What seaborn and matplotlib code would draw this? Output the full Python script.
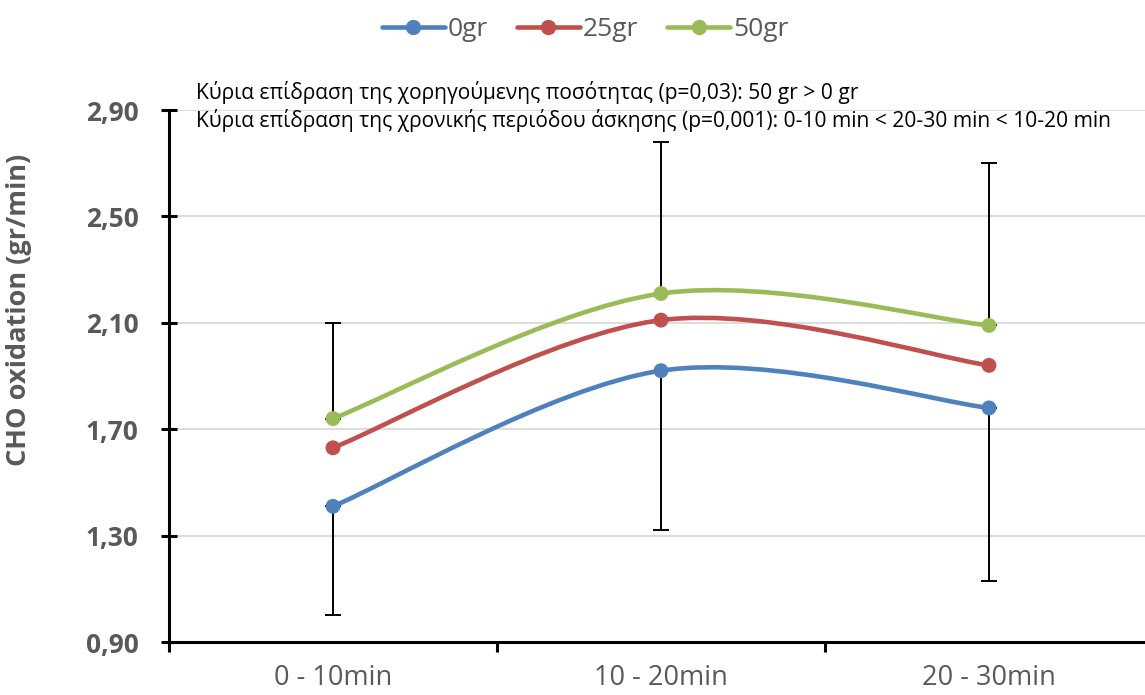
import matplotlib
matplotlib.use("Agg")
import matplotlib.pyplot as plt
from matplotlib.path import Path
from matplotlib.patches import PathPatch
from matplotlib.lines import Line2D
import seaborn as sns
import pandas as pd
import numpy as np

# ---- data ----
categories = ["0 - 10min", "10 - 20min", "20 - 30min"]
series_names = ["0gr", "25gr", "50gr"]
values_0gr = [1.41, 1.92, 1.78]
values_25gr = [1.63, 2.11, 1.94]
values_50gr = [1.74, 2.21, 2.09]
err_up_50gr = [0.36, 0.57, 0.61]
err_down_0gr = [0.41, 0.60, 0.65]
y_ticks = [0.90, 1.30, 1.70, 2.10, 2.50, 2.90]
y_tick_labels = ["0,90", "1,30", "1,70", "2,10", "2,50", "2,90"]
annot_lines = [
    "Κύρια επίδραση της χορηγούμενης ποσότητας (p=0,03): 50 gr > 0 gr",
    "Κύρια επίδραση της χρονικής περιόδου άσκησης (p=0,001): 0-10 min < 20-30 min < 10-20 min",
]
colors = {"0gr": "#4F81BD", "25gr": "#C0504D", "50gr": "#9BBB59"}

sns.set_theme(style="white")
plt.rcParams["font.family"] = ["Open Sans", "Noto Sans", "DejaVu Sans"]

df = pd.DataFrame({
    "cat": categories * 3,
    "x": list(range(len(categories))) * 3,
    "value": values_0gr + values_25gr + values_50gr,
    "series": [s for s in series_names for _ in categories],
})

fig = plt.figure(figsize=(11.45, 6.95), dpi=100)
ax = fig.add_axes([169 / 1145, 1 - 642 / 695, 984 / 1145, (642 - 110) / 695])

ax.set_xlim(-0.5, 2.5)
ax.set_ylim(0.90, 2.90)

# gridlines
ax.set_yticks(y_ticks)
ax.set_yticklabels(y_tick_labels)
ax.yaxis.grid(True, color="#D9D9D9", linewidth=1.3)
ax.set_axisbelow(True)


def smooth_path(xs, ys):
    pts = np.column_stack([xs, ys]).astype(float)
    n = len(pts)
    verts = [pts[0]]
    codes = [Path.MOVETO]
    for i in range(n - 1):
        p0 = pts[i - 1] if i > 0 else pts[i]
        p1 = pts[i]
        p2 = pts[i + 1]
        p3 = pts[i + 2] if i + 2 < n else pts[i + 1]
        c1 = p1 + (p2 - p0) / 6.0
        c2 = p2 - (p3 - p1) / 6.0
        verts += [c1, c2, p2]
        codes += [Path.CURVE4] * 3
    return Path(verts, codes)


for name in series_names:
    sub = df[df["series"] == name]
    patch = PathPatch(smooth_path(sub["x"].values, sub["value"].values),
                      facecolor="none", edgecolor=colors[name], linewidth=3.3,
                      capstyle="round", joinstyle="round", zorder=3,
                      transform=ax.transData)
    ax.add_patch(patch)

# error bars
xpos = np.arange(len(categories))
ax.errorbar(xpos, values_50gr, yerr=[np.zeros(3), err_up_50gr], fmt="none",
            ecolor="black", elinewidth=1.4, capsize=6, capthick=1.4, zorder=2)
ax.errorbar(xpos, values_0gr, yerr=[err_down_0gr, np.zeros(3)], fmt="none",
            ecolor="black", elinewidth=1.4, capsize=6, capthick=1.4, zorder=2)

sns.scatterplot(data=df, x="x", y="value", hue="series", palette=colors,
                hue_order=series_names, s=115, edgecolor="none", legend=False,
                ax=ax, zorder=4)

ax.set_xlim(-0.5, 2.5)
ax.set_ylim(0.90, 2.90)

# x axis: category labels centered, ticks at boundaries
ax.set_xticks([-0.5, 0.5, 1.5, 2.5])
ax.set_xticklabels([])
ax.set_xticks(xpos, minor=True)
ax.set_xticklabels(categories, minor=True, fontsize=19.5, color="#595959")
ax.tick_params(axis="x", which="minor", bottom=True, length=0, pad=16)
ax.tick_params(axis="x", which="major", bottom=True, direction="out", length=7,
               width=2.2, color="black")
ax.tick_params(axis="y", left=True, direction="inout", length=12, width=2.2,
               color="black", labelsize=19, labelcolor="#595959", pad=16)
for lbl in ax.get_yticklabels():
    lbl.set_fontweight("bold")

ax.set_xlabel("")
ax.set_ylabel("CHO oxidation (gr/min)", fontsize=19.5, fontweight="bold",
              color="#595959")
ax.yaxis.set_label_coords((32 - 169) / 984, (642 - 310) / 532)

for side in ["top", "right"]:
    ax.spines[side].set_visible(False)
for side in ["left", "bottom"]:
    ax.spines[side].set_color("black")
    ax.spines[side].set_linewidth(2.2)

# annotation text
fig.text(196 / 1145, 1 - 92 / 695, annot_lines[0], fontsize=15.1, color="black",
         va="center", ha="left")
fig.text(196 / 1145, 1 - 120 / 695, annot_lines[1], fontsize=15.1, color="black",
         va="center", ha="left")

# legend
handles = [Line2D([0], [0], color=colors[n], linewidth=3.3, marker="o",
                  markersize=10, solid_capstyle="round") for n in series_names]
fig.legend(handles, series_names, loc="center", bbox_to_anchor=(585 / 1145, 1 - 30 / 695),
           ncol=3, frameon=False, fontsize=19, labelcolor="#595959",
           handlelength=2.4, handletextpad=0.1, columnspacing=1.1)

fig.savefig("out.png", dpi=100)
